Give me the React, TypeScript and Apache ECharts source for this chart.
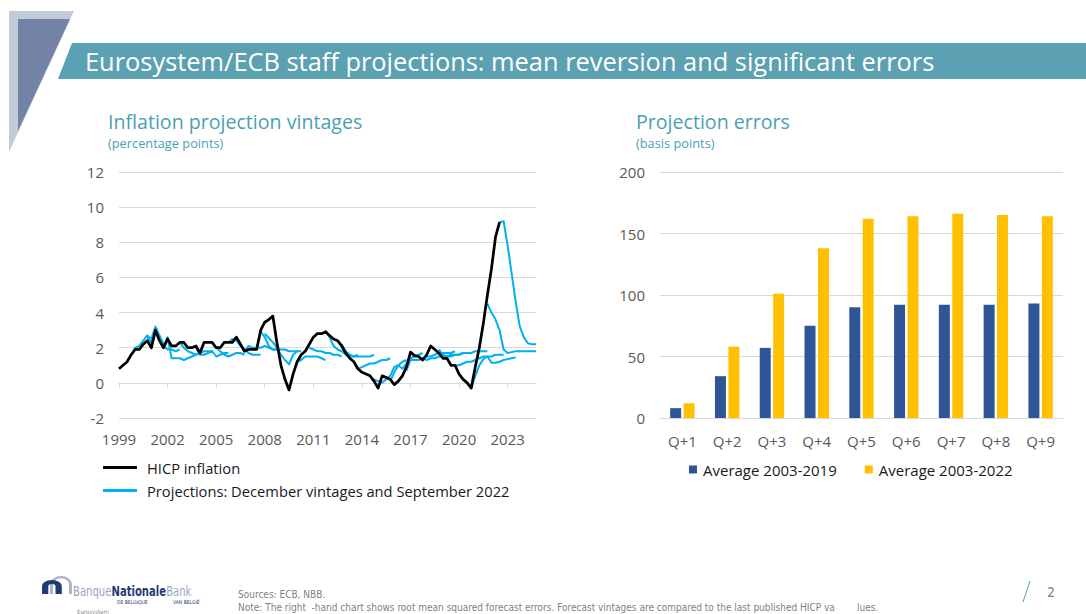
import React, { useEffect, useRef } from "react";
import * as echarts from "echarts";

// ---------- Left chart data (quarterly, index 0 = 1999Q1) ----------
const firstYear = 1999;
const lastQuarterIndex = 103; // 2024Q4
const tickYears = [1999, 2002, 2005, 2008, 2011, 2014, 2017, 2020, 2023];
const leftYTicks = { min: -2, max: 12, interval: 2 };

const hicpName = "HICP inflation";
const projName = "Projections: December vintages and September 2022";

const hicp = [
  0.8, 1.0, 1.2, 1.6, 1.9, 1.9, 2.2, 2.4, 2.0, 3.0, 2.4, 2.0,
  2.5, 2.1, 2.1, 2.3, 2.3, 2.0, 2.0, 2.1, 1.7, 2.3, 2.3, 2.3,
  2.0, 2.0, 2.3, 2.3, 2.3, 2.6, 2.2, 1.8, 1.9, 1.9, 1.9, 3.0,
  3.45, 3.6, 3.8, 2.3, 1.0, 0.2, -0.4, 0.5, 1.2, 1.6, 1.8, 2.2,
  2.6, 2.8, 2.8, 2.9, 2.7, 2.5, 2.4, 2.1, 1.7, 1.4, 1.2, 0.8,
  0.6, 0.5, 0.4, 0.1, -0.3, 0.4, 0.3, 0.2, -0.1, 0.1, 0.4, 0.9,
  1.75, 1.55, 1.5, 1.3, 1.6, 2.1, 1.9, 1.7, 1.4, 1.4, 1.0, 1.0,
  0.5, 0.2, 0.0, -0.3, 0.9, 2.0, 3.4, 5.0, 6.5, 8.3, 9.15,
];

const dec1999 = [1.6, 2.0, 2.1, 2.4, 2.7, 2.5, 3.2, 2.7, 2.2];
const dec2000 = [2.6, 2.3, 2.9, 2.6, 2.1, 1.9, 1.9, 1.8, 1.9];
const dec2001 = [2.1, 2.6, 1.4, 1.4, 1.4, 1.3, 1.4, 1.5, 1.6];
const dec2002 = [2.3, 2.0, 1.8, 1.7, 1.6, 1.7, 1.8, 1.8, 1.8];
const dec2003 = [2.0, 1.6, 1.6, 1.7, 1.8, 1.5, 1.6, 1.7, 1.7];
const dec2004 = [2.3, 2.0, 1.8, 1.6, 1.5, 1.6, 1.7, 1.7, 1.6];
const dec2005 = [2.3, 2.5, 2.4, 2.1, 1.9, 1.7, 1.6, 1.6, 1.6];
const dec2006 = [1.8, 2.1, 2.0, 2.0, 2.0, 2.1, 2.0, 1.9, 1.9];
const dec2007 = [2.9, 2.6, 2.1, 1.9, 1.9, 1.9, 1.9, 1.8, 1.8, 1.8];
const dec2008 = [2.8, 2.55, 2.3, 2.0, 1.6, 1.3, 1.05, 1.6, 1.8, 1.8];
const dec2009 = [1.2, 1.3, 1.5, 1.5, 1.5, 1.5, 1.4, 1.3];
const dec2010 = [2.0, 1.9, 1.8, 1.8, 1.7, 1.7, 1.6, 1.6, 1.5];
const dec2011 = [3.0, 2.6, 2.1, 1.9, 1.8, 1.6, 1.5, 1.5, 1.6];
const dec2012 = [2.2, 1.8, 1.6, 1.5, 1.5, 1.5, 1.5, 1.5, 1.6];
const dec2013 = [0.8, 0.9, 1.0, 1.1, 1.1, 1.2, 1.3, 1.3, 1.4];
const dec2014 = [0.2, 0.1, 0.0, 0.2, 0.4, 0.9, 1.0, 1.2, 1.3];
const dec2015 = [0.1, 0.6, 1.0, 0.8, 1.1, 1.4, 1.5, 1.6, 1.7];
const dec2016 = [0.7, 1.3, 1.3, 1.3, 1.4, 1.5, 1.5, 1.6, 1.7, 1.7, 1.7, 1.7, 1.8];
const dec2017 = [1.4, 1.3, 1.4, 1.4, 1.5, 1.5, 1.5, 1.5, 1.6, 1.6, 1.7, 1.7, 1.7];
const dec2018 = [1.9, 1.6, 1.5, 1.6, 1.6, 1.6, 1.7, 1.7, 1.7, 1.8, 1.8, 1.8, 1.8];
const dec2019 = [1.0, 1.0, 1.1, 1.2, 1.2, 1.3, 1.4, 1.5, 1.5, 1.5, 1.6, 1.6, 1.6];
const dec2020 = [-0.3, 0.4, 1.0, 1.35, 1.5, 1.15, 1.15, 1.2, 1.3, 1.35, 1.4, 1.45];
const dec2021 = [4.5, 4.0, 3.6, 3.0, 1.9, 1.7, 1.75, 1.8, 1.8, 1.8, 1.8, 1.8, 1.8];
const sep2022 = [9.15, 9.2, 7.8, 6.2, 4.6, 3.2, 2.6, 2.25, 2.2, 2.2];

// first quarter index of each vintage
const vintageStarts = [3, 7, 11, 15, 19, 23, 27, 31, 35, 36, 44, 47, 51, 55, 59, 63, 67, 71, 75, 79, 83, 87, 91, 94];
const vintageValues = [
  dec1999, dec2000, dec2001, dec2002, dec2003, dec2004, dec2005, dec2006,
  dec2007, dec2008, dec2009, dec2010, dec2011, dec2012, dec2013, dec2014,
  dec2015, dec2016, dec2017, dec2018, dec2019, dec2020, dec2021, sep2022,
];

// ---------- Right chart data ----------
const horizons = ["Q+1", "Q+2", "Q+3", "Q+4", "Q+5", "Q+6", "Q+7", "Q+8", "Q+9"];
const avgName1 = "Average 2003-2019";
const avgName2 = "Average 2003-2022";
const avg2003to2019 = [8, 34, 57, 75, 90, 92, 92, 92, 93];
const avg2003to2022 = [12, 58, 101, 138, 162, 164, 166, 165, 164];

const FONT = "'Open Sans', 'Noto Sans', sans-serif";
const NARROW = "'Liberation Sans Narrow', 'DejaVu Sans Condensed', sans-serif";
const TEAL = "#5CA1B1";
const SUB = "#4A9FB5";
const LIGHT_BLUE = "#00B0F0";
const GRID = "#D9D9D9";
const LABEL = "#595959";

echarts.graphic.registerShape(
  "nbbArch",
  echarts.graphic.extendPath(
    "M0 24 L0 11 A11 11 0 0 1 22 11 L22 24 L15 24 L15 11 A4 4 0 0 0 7 11 L7 24 Z",
    {}
  )
);
echarts.graphic.registerShape(
  "nbbArchThin",
  echarts.graphic.extendPath(
    "M0 24 L0 11 A11 11 0 0 1 22 11 L22 24 L19 24 L19 11 A8 8 0 0 0 3 11 L3 24 Z",
    {}
  )
);

export default function App() {
  const ref = useRef<HTMLDivElement>(null);

  useEffect(() => {
    if (!ref.current) return;
    const chart = echarts.init(ref.current, null, { renderer: "svg" });

    const tickQuarters = tickYears.map((y) => (y - firstYear) * 4);

    const projSeries = vintageValues.map((vals, k) => ({
      type: "line",
      name: projName,
      xAxisIndex: 0,
      yAxisIndex: 0,
      data: vals.map((v, i) => [vintageStarts[k] + i, v]),
      symbol: "none",
      showSymbol: false,
      color: LIGHT_BLUE,
      lineStyle: { width: 2, color: LIGHT_BLUE, join: "round" },
      z: 2,
    }));

    const option: any = {
      animation: false,
      textStyle: { fontFamily: FONT },
      grid: [
        { left: 119, top: 172, width: 417, height: 246 },
        { left: 660, top: 172, width: 403, height: 246 },
      ],
      xAxis: [
        {
          type: "value",
          gridIndex: 0,
          min: 0,
          max: lastQuarterIndex,
          interval: 12,
          position: "bottom",
          axisLine: { show: false, onZero: false },
          axisTick: { show: false },
          splitLine: { show: false },
          axisLabel: {
            customValues: tickQuarters,
            formatter: (v: number) => String(firstYear + v / 4),
            color: LABEL,
            fontSize: 15,
            margin: 13,
            fontFamily: FONT,
          },
        },
        {
          type: "value",
          gridIndex: 0,
          min: 0,
          max: lastQuarterIndex,
          interval: 12,
          position: "bottom",
          axisLine: { show: true, onZero: true, onZeroAxisIndex: 0, lineStyle: { color: GRID, width: 1 } },
          axisTick: { show: true, customValues: tickQuarters, length: 5, lineStyle: { color: GRID } },
          axisLabel: { show: false },
          splitLine: { show: false },
        },
        {
          type: "category",
          gridIndex: 1,
          data: horizons,
          axisLine: { show: true, lineStyle: { color: GRID } },
          axisTick: { show: false },
          axisLabel: { color: LABEL, fontSize: 15, margin: 15, fontFamily: FONT },
        },
      ],
      yAxis: [
        {
          type: "value",
          gridIndex: 0,
          min: leftYTicks.min,
          max: leftYTicks.max,
          interval: leftYTicks.interval,
          axisLine: { show: false },
          axisTick: { show: false },
          splitLine: { lineStyle: { color: GRID, width: 1 } },
          axisLabel: { color: LABEL, fontSize: 15, margin: 15, fontFamily: FONT },
        },
        {
          type: "value",
          gridIndex: 1,
          min: 0,
          max: 200,
          interval: 50,
          axisLine: { show: false },
          axisTick: { show: false },
          splitLine: { lineStyle: { color: GRID, width: 1 } },
          axisLabel: { color: LABEL, fontSize: 15, margin: 15, fontFamily: FONT },
        },
      ],
      legend: [
        {
          data: [hicpName, projName],
          orient: "vertical",
          left: 103,
          top: 460,
          padding: 0,
          icon: "rect",
          itemWidth: 34,
          itemHeight: 3,
          itemGap: 8,
          selectedMode: false,
          textStyle: { fontSize: 14.7, color: "#1a1a1a", fontFamily: FONT, padding: [0, 0, 0, 5] },
        },
        {
          data: [avgName1, avgName2],
          orient: "horizontal",
          left: 689,
          top: 462,
          padding: 0,
          icon: "rect",
          itemWidth: 8,
          itemHeight: 8,
          itemGap: 28,
          selectedMode: false,
          textStyle: { fontSize: 15, color: "#1a1a1a", fontFamily: FONT, padding: [0, 0, 0, 1] },
        },
      ],
      series: [
        ...projSeries,
        {
          type: "line",
          name: hicpName,
          xAxisIndex: 0,
          yAxisIndex: 0,
          data: hicp.map((v, i) => [i, v]),
          symbol: "none",
          showSymbol: false,
          color: "#000000",
          lineStyle: { width: 2.75, color: "#000000", join: "round" },
          z: 3,
        },
        {
          type: "bar",
          name: avgName1,
          xAxisIndex: 2,
          yAxisIndex: 1,
          data: avg2003to2019,
          barWidth: 11,
          barGap: "22%",
          color: "#2F5597",
          itemStyle: { color: "#2F5597" },
        },
        {
          type: "bar",
          name: avgName2,
          xAxisIndex: 2,
          yAxisIndex: 1,
          data: avg2003to2022,
          barWidth: 11,
          barGap: "22%",
          color: "#FFC000",
          itemStyle: { color: "#FFC000" },
        },
      ],
      graphic: [
        // left decoration
        { type: "polygon", shape: { points: [[9, 11], [74, 11], [9, 152]] }, style: { fill: "#C3CBDB" }, silent: true },
        { type: "polygon", shape: { points: [[18, 19], [70, 19], [18, 131]] }, style: { fill: "#7383A6" }, silent: true },
        // banner
        { type: "polygon", shape: { points: [[72, 43], [1086, 43], [1086, 79], [58, 79]] }, style: { fill: TEAL }, silent: true },
        {
          type: "text",
          x: 85,
          y: 61,
          style: {
            text: "Eurosystem/ECB staff projections: mean reversion and significant errors",
            fill: "#ffffff",
            font: `25.4px ${FONT}`,
            verticalAlign: "middle",
          },
        },
        // subtitles
        { type: "text", x: 108, y: 121, style: { text: "Inflation projection vintages", fill: SUB, font: `19.6px ${FONT}`, verticalAlign: "middle" } },
        { type: "text", x: 108, y: 143, style: { text: "(percentage points)", fill: SUB, font: `12.8px ${FONT}`, verticalAlign: "middle" } },
        { type: "text", x: 636, y: 121, style: { text: "Projection errors", fill: SUB, font: `19.6px ${FONT}`, verticalAlign: "middle" } },
        { type: "text", x: 636, y: 143, style: { text: "(basis points)", fill: SUB, font: `12.8px ${FONT}`, verticalAlign: "middle" } },
        // footer logo
        { type: "nbbArchThin", x: 50, y: 576, scaleX: 1.0, scaleY: 0.75, style: { fill: "#AEB5C4" } },
        { type: "nbbArch", x: 42, y: 580, scaleX: 0.9, scaleY: 0.58, style: { fill: "#1F3B73" } },
        {
          type: "text",
          x: 73,
          y: 591,
          scaleX: 0.8,
          style: {
            text: "{a|Banque}{b|Nationale}{a|Bank}",
            verticalAlign: "middle",
            rich: {
              a: { fontFamily: NARROW, fontSize: 14, fill: "#9AA6BF" },
              b: { fontFamily: NARROW, fontSize: 14, fontWeight: "bold", fill: "#1F3B73" },
            },
          },
        },
        { type: "text", x: 117, y: 602, style: { text: "DE BELGIQUE", fill: "#1F3B73", font: `5px ${NARROW}`, verticalAlign: "middle" } },
        { type: "text", x: 173, y: 602, style: { text: "VAN BELGIË", fill: "#1F3B73", font: `5px ${NARROW}`, verticalAlign: "middle" } },
        { type: "text", x: 77, y: 611, style: { text: "Eurosystem", fill: "#8c8c8c", font: `6px ${NARROW}`, verticalAlign: "middle" } },
        // footer notes
        { type: "text", x: 238, y: 594, style: { text: "Sources: ECB, NBB.", fill: "#7F7F7F", font: `10px ${NARROW}`, verticalAlign: "middle" } },
        {
          type: "text",
          x: 238,
          y: 607,
          style: {
            text: "Note: The right  -hand chart shows root mean squared forecast errors. Forecast vintages are compared to the last published HICP va",
            fill: "#7F7F7F",
            font: `10px ${NARROW}`,
            verticalAlign: "middle",
          },
        },
        { type: "text", x: 857, y: 607, style: { text: "lues.", fill: "#7F7F7F", font: `10px ${NARROW}`, verticalAlign: "middle" } },
        // page number
        { type: "line", shape: { x1: 1030, y1: 581, x2: 1023, y2: 602 }, style: { stroke: TEAL, lineWidth: 1 } },
        { type: "text", x: 1047, y: 592, style: { text: "2", fill: "#7F7F7F", font: `14px ${NARROW}`, verticalAlign: "middle" } },
      ],
    };

    chart.setOption(option);
    return () => chart.dispose();
  }, []);

  return (
    <div
      ref={ref}
      style={{ position: "absolute", left: 0, top: 0, width: 1086, height: 614, background: "#ffffff" }}
    />
  );
}
